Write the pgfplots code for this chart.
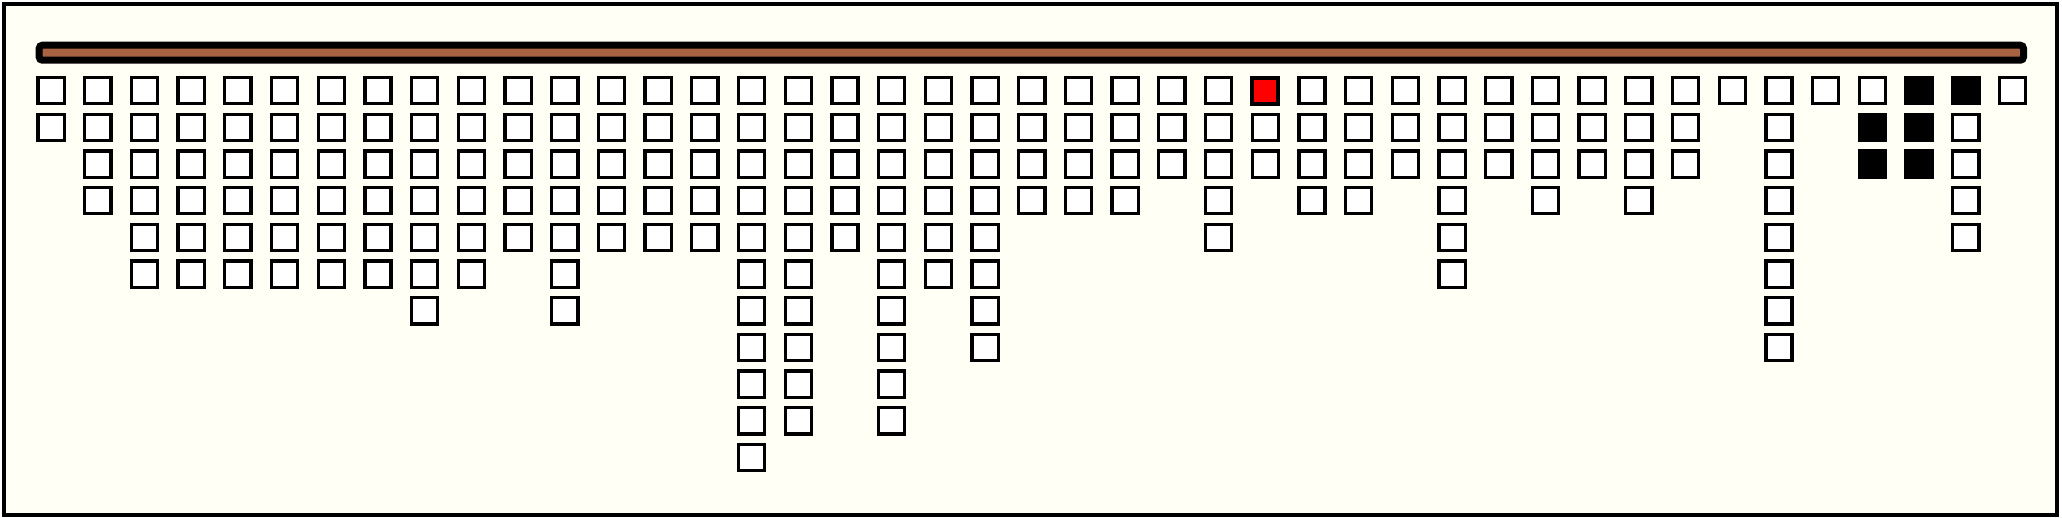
\documentclass[border=0pt]{standalone}
\usepackage{pgfplots}
\pgfplotsset{compat=1.18}
\definecolor{bgivory}{RGB}{255,255,246}
\definecolor{barbrown}{RGB}{168,100,66}
\definecolor{redsq}{RGB}{255,0,0}
\begin{document}
\begin{tikzpicture}
\begin{axis}[
  x=11.675pt, y=9.1675pt, y dir=reverse,
  xmin=-1.013, xmax=42.95, ymin=-1.3725, ymax=12.562,
  xtick=\empty, ytick=\empty,
  axis line style={line width=1pt, black},
  axis background/.style={fill=bgivory},
  clip=false,
]
% top bar
\addplot[draw=black, fill=barbrown, line width=1.75pt, rounded corners=0.8pt, mark=none, sharp plot]
  coordinates {(-0.255,-0.241) (42.235,-0.241) (42.235,0.168) (-0.255,0.168)} -- cycle;
% white squares
\addplot[only marks, mark=square*, mark size=3.275pt, mark options={draw=black, fill=white, line width=0.825pt}]
coordinates {
(0,1)(0,2)
(1,1)(1,2)(1,3)(1,4)
(2,1)(2,2)(2,3)(2,4)(2,5)(2,6)
(3,1)(3,2)(3,3)(3,4)(3,5)(3,6)
(4,1)(4,2)(4,3)(4,4)(4,5)(4,6)
(5,1)(5,2)(5,3)(5,4)(5,5)(5,6)
(6,1)(6,2)(6,3)(6,4)(6,5)(6,6)
(7,1)(7,2)(7,3)(7,4)(7,5)(7,6)
(8,1)(8,2)(8,3)(8,4)(8,5)(8,6)(8,7)
(9,1)(9,2)(9,3)(9,4)(9,5)(9,6)
(10,1)(10,2)(10,3)(10,4)(10,5)
(11,1)(11,2)(11,3)(11,4)(11,5)(11,6)(11,7)
(12,1)(12,2)(12,3)(12,4)(12,5)
(13,1)(13,2)(13,3)(13,4)(13,5)
(14,1)(14,2)(14,3)(14,4)(14,5)
(15,1)(15,2)(15,3)(15,4)(15,5)(15,6)(15,7)(15,8)(15,9)(15,10)(15,11)
(16,1)(16,2)(16,3)(16,4)(16,5)(16,6)(16,7)(16,8)(16,9)(16,10)
(17,1)(17,2)(17,3)(17,4)(17,5)
(18,1)(18,2)(18,3)(18,4)(18,5)(18,6)(18,7)(18,8)(18,9)(18,10)
(19,1)(19,2)(19,3)(19,4)(19,5)(19,6)
(20,1)(20,2)(20,3)(20,4)(20,5)(20,6)(20,7)(20,8)
(21,1)(21,2)(21,3)(21,4)
(22,1)(22,2)(22,3)(22,4)
(23,1)(23,2)(23,3)(23,4)
(24,1)(24,2)(24,3)
(25,1)(25,2)(25,3)(25,4)(25,5)
(26,2)(26,3)
(27,1)(27,2)(27,3)(27,4)
(28,1)(28,2)(28,3)(28,4)
(29,1)(29,2)(29,3)
(30,1)(30,2)(30,3)(30,4)(30,5)(30,6)
(31,1)(31,2)(31,3)
(32,1)(32,2)(32,3)(32,4)
(33,1)(33,2)(33,3)
(34,1)(34,2)(34,3)(34,4)
(35,1)(35,2)(35,3)
(36,1)
(37,1)(37,2)(37,3)(37,4)(37,5)(37,6)(37,7)(37,8)
(38,1)
(39,1)
(41,2)(41,3)(41,4)(41,5)
(42,1)
};
% black squares
\addplot[only marks, mark=square*, mark size=3.275pt, mark options={draw=black, fill=black, line width=0.825pt}]
coordinates {(39,2)(39,3)(40,1)(40,2)(40,3)(41,1)};
% red square
\addplot[only marks, mark=square*, mark size=3.29pt, mark options={draw=black, fill=redsq, line width=1pt}]
coordinates {(26,1)};
\end{axis}
\pgfresetboundingbox
\path (current axis.south west) ++(-0.95pt,-0.575pt) rectangle ++(515.5pt,129.25pt);
\end{tikzpicture}
\end{document}
